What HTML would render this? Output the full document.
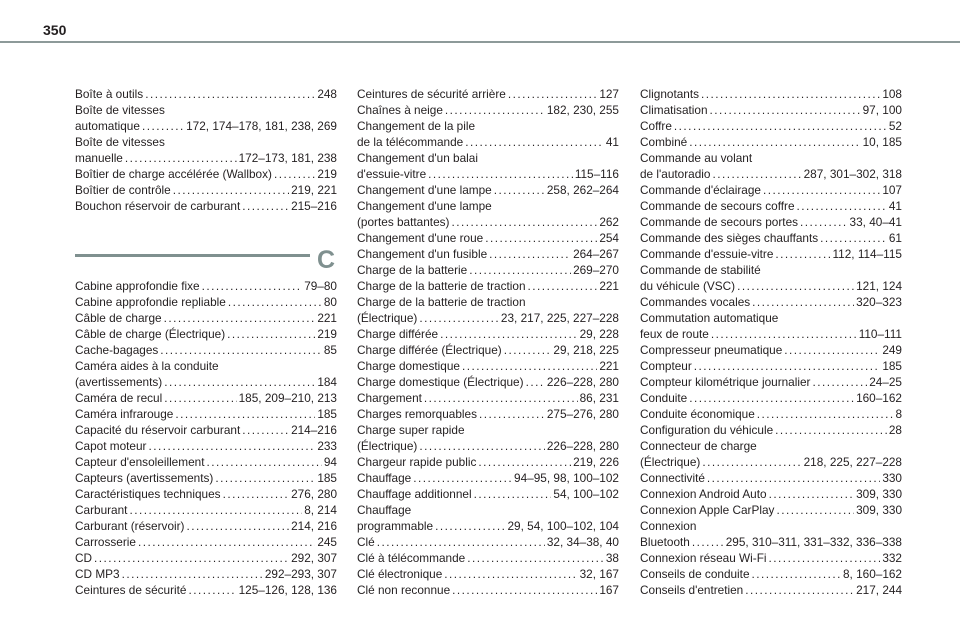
<!DOCTYPE html><html><head><meta charset="utf-8"><style>
body{margin:0;width:960px;height:640px;background:#fff;font-family:"Liberation Sans",Arial,sans-serif;color:#231f20;position:relative;overflow:hidden}
.hd{position:absolute;left:43px;top:22px;font-weight:bold;font-size:14px}
.hl{position:absolute;left:0;top:41px;width:960px;height:2px;background:#8d9a99}
.col{position:absolute;top:86px;width:262px;font-size:11.8px;line-height:16px}
.e{display:flex;white-space:nowrap}
.d{flex:1;overflow:hidden;margin:0 2px}
.d::after{content:". . . . . . . . . . . . . . . . . . . . . . . . . . . . . . . . . . . . . . . . . . . . . . . . . . . . . . . . . . . . . . . . . . . . . . . . . . . . . . . ";letter-spacing:-0.9px}
.sec{position:relative;height:64px}
.sec .ln{position:absolute;left:0;top:40px;width:235px;height:3px;background:#7f908f}
.sec .c{position:absolute;right:2px;top:33px;font-size:25px;font-weight:bold;color:#7f908f;line-height:26px}
</style></head><body>
<div class="hd">350</div><div class="hl"></div>
<div class="col" style="left:75px">
<div class="e">Boîte à outils<span class="d"></span>248</div>
<div>Boîte de vitesses</div>
<div class="e">automatique<span class="d"></span>172, 174–178, 181, 238, 269</div>
<div>Boîte de vitesses</div>
<div class="e">manuelle<span class="d"></span>172–173, 181, 238</div>
<div class="e">Boîtier de charge accélérée (Wallbox)<span class="d"></span>219</div>
<div class="e">Boîtier de contrôle<span class="d"></span>219, 221</div>
<div class="e">Bouchon réservoir de carburant<span class="d"></span>215–216</div>
<div class="sec"><div class="ln"></div><div class="c">C</div></div>
<div class="e">Cabine approfondie fixe<span class="d"></span>79–80</div>
<div class="e">Cabine approfondie repliable<span class="d"></span>80</div>
<div class="e">Câble de charge<span class="d"></span>221</div>
<div class="e">Câble de charge (Électrique)<span class="d"></span>219</div>
<div class="e">Cache-bagages<span class="d"></span>85</div>
<div>Caméra aides à la conduite</div>
<div class="e">(avertissements)<span class="d"></span>184</div>
<div class="e">Caméra de recul<span class="d"></span>185, 209–210, 213</div>
<div class="e">Caméra infrarouge<span class="d"></span>185</div>
<div class="e">Capacité du réservoir carburant<span class="d"></span>214–216</div>
<div class="e">Capot moteur<span class="d"></span>233</div>
<div class="e">Capteur d'ensoleillement<span class="d"></span>94</div>
<div class="e">Capteurs (avertissements)<span class="d"></span>185</div>
<div class="e">Caractéristiques techniques<span class="d"></span>276, 280</div>
<div class="e">Carburant<span class="d"></span>8, 214</div>
<div class="e">Carburant (réservoir)<span class="d"></span>214, 216</div>
<div class="e">Carrosserie<span class="d"></span>245</div>
<div class="e">CD<span class="d"></span>292, 307</div>
<div class="e">CD MP3<span class="d"></span>292–293, 307</div>
<div class="e">Ceintures de sécurité<span class="d"></span>125–126, 128, 136</div>
</div>
<div class="col" style="left:357px">
<div class="e">Ceintures de sécurité arrière<span class="d"></span>127</div>
<div class="e">Chaînes à neige<span class="d"></span>182, 230, 255</div>
<div>Changement de la pile</div>
<div class="e">de la télécommande<span class="d"></span>41</div>
<div>Changement d'un balai</div>
<div class="e">d'essuie-vitre<span class="d"></span>115–116</div>
<div class="e">Changement d'une lampe<span class="d"></span>258, 262–264</div>
<div>Changement d'une lampe</div>
<div class="e">(portes battantes)<span class="d"></span>262</div>
<div class="e">Changement d'une roue<span class="d"></span>254</div>
<div class="e">Changement d'un fusible<span class="d"></span>264–267</div>
<div class="e">Charge de la batterie<span class="d"></span>269–270</div>
<div class="e">Charge de la batterie de traction<span class="d"></span>221</div>
<div>Charge de la batterie de traction</div>
<div class="e">(Électrique)<span class="d"></span>23, 217, 225, 227–228</div>
<div class="e">Charge différée<span class="d"></span>29, 228</div>
<div class="e">Charge différée (Électrique)<span class="d"></span>29, 218, 225</div>
<div class="e">Charge domestique<span class="d"></span>221</div>
<div class="e">Charge domestique (Électrique)<span class="d"></span>226–228, 280</div>
<div class="e">Chargement<span class="d"></span>86, 231</div>
<div class="e">Charges remorquables<span class="d"></span>275–276, 280</div>
<div>Charge super rapide</div>
<div class="e">(Électrique)<span class="d"></span>226–228, 280</div>
<div class="e">Chargeur rapide public<span class="d"></span>219, 226</div>
<div class="e">Chauffage<span class="d"></span>94–95, 98, 100–102</div>
<div class="e">Chauffage additionnel<span class="d"></span>54, 100–102</div>
<div>Chauffage</div>
<div class="e">programmable<span class="d"></span>29, 54, 100–102, 104</div>
<div class="e">Clé<span class="d"></span>32, 34–38, 40</div>
<div class="e">Clé à télécommande<span class="d"></span>38</div>
<div class="e">Clé électronique<span class="d"></span>32, 167</div>
<div class="e">Clé non reconnue<span class="d"></span>167</div>
</div>
<div class="col" style="left:640px">
<div class="e">Clignotants<span class="d"></span>108</div>
<div class="e">Climatisation<span class="d"></span>97, 100</div>
<div class="e">Coffre<span class="d"></span>52</div>
<div class="e">Combiné<span class="d"></span>10, 185</div>
<div>Commande au volant</div>
<div class="e">de l'autoradio<span class="d"></span>287, 301–302, 318</div>
<div class="e">Commande d'éclairage<span class="d"></span>107</div>
<div class="e">Commande de secours coffre<span class="d"></span>41</div>
<div class="e">Commande de secours portes<span class="d"></span>33, 40–41</div>
<div class="e">Commande des sièges chauffants<span class="d"></span>61</div>
<div class="e">Commande d'essuie-vitre<span class="d"></span>112, 114–115</div>
<div>Commande de stabilité</div>
<div class="e">du véhicule (VSC)<span class="d"></span>121, 124</div>
<div class="e">Commandes vocales<span class="d"></span>320–323</div>
<div>Commutation automatique</div>
<div class="e">feux de route<span class="d"></span>110–111</div>
<div class="e">Compresseur pneumatique<span class="d"></span>249</div>
<div class="e">Compteur<span class="d"></span>185</div>
<div class="e">Compteur kilométrique journalier<span class="d"></span>24–25</div>
<div class="e">Conduite<span class="d"></span>160–162</div>
<div class="e">Conduite économique<span class="d"></span>8</div>
<div class="e">Configuration du véhicule<span class="d"></span>28</div>
<div>Connecteur de charge</div>
<div class="e">(Électrique)<span class="d"></span>218, 225, 227–228</div>
<div class="e">Connectivité<span class="d"></span>330</div>
<div class="e">Connexion Android Auto<span class="d"></span>309, 330</div>
<div class="e">Connexion Apple CarPlay<span class="d"></span>309, 330</div>
<div>Connexion</div>
<div class="e">Bluetooth<span class="d"></span>295, 310–311, 331–332, 336–338</div>
<div class="e">Connexion réseau Wi-Fi<span class="d"></span>332</div>
<div class="e">Conseils de conduite<span class="d"></span>8, 160–162</div>
<div class="e">Conseils d'entretien<span class="d"></span>217, 244</div>
</div>
</body></html>
